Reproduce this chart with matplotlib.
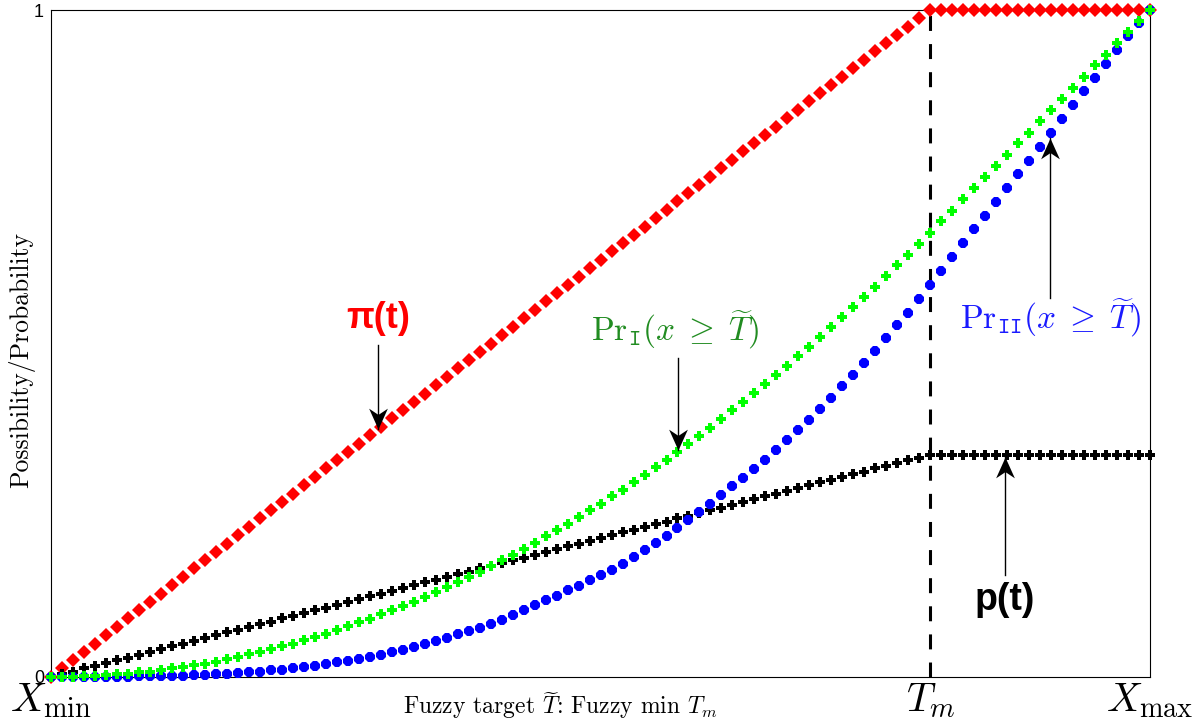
import numpy as np
import matplotlib
matplotlib.use("Agg")
import matplotlib.pyplot as plt
from matplotlib.path import Path

plt.rcParams["mathtext.fontset"] = "cm"
plt.rcParams["font.family"] = "serif"
plt.rcParams["font.serif"] = ["cmr10"]
plt.rcParams["axes.unicode_minus"] = False

# sample grid on [Xmin, Xmax], fuzzy min at Tm
t = np.arange(101) / 100
T_m = 0.8

# possibility pi(t)
pi_t = [0.000, 0.013, 0.025, 0.038, 0.050, 0.063, 0.075, 0.088, 0.100, 0.113,
        0.125, 0.138, 0.150, 0.163, 0.175, 0.188, 0.200, 0.213, 0.225, 0.238,
        0.250, 0.263, 0.275, 0.288, 0.300, 0.313, 0.325, 0.338, 0.350, 0.363,
        0.375, 0.388, 0.400, 0.413, 0.425, 0.438, 0.450, 0.463, 0.475, 0.488,
        0.500, 0.513, 0.525, 0.538, 0.550, 0.563, 0.575, 0.588, 0.600, 0.613,
        0.625, 0.638, 0.650, 0.663, 0.675, 0.688, 0.700, 0.713, 0.725, 0.738,
        0.750, 0.763, 0.775, 0.788, 0.800, 0.813, 0.825, 0.838, 0.850, 0.863,
        0.875, 0.888, 0.900, 0.913, 0.925, 0.938, 0.950, 0.963, 0.975, 0.988,
        1.000, 1.000, 1.000, 1.000, 1.000, 1.000, 1.000, 1.000, 1.000, 1.000,
        1.000, 1.000, 1.000, 1.000, 1.000, 1.000, 1.000, 1.000, 1.000, 1.000,
        1.000]

# Pr_I(x >= T)
pr_1 = [0.000, 0.000, 0.000, 0.001, 0.002, 0.003, 0.004, 0.005, 0.007, 0.008,
        0.010, 0.013, 0.015, 0.018, 0.020, 0.023, 0.027, 0.030, 0.034, 0.038,
        0.042, 0.046, 0.050, 0.055, 0.060, 0.065, 0.070, 0.076, 0.082, 0.087,
        0.094, 0.100, 0.106, 0.113, 0.120, 0.127, 0.135, 0.142, 0.150, 0.158,
        0.166, 0.175, 0.183, 0.192, 0.201, 0.211, 0.220, 0.230, 0.240, 0.250,
        0.260, 0.271, 0.281, 0.292, 0.303, 0.315, 0.326, 0.338, 0.350, 0.362,
        0.374, 0.387, 0.400, 0.413, 0.426, 0.439, 0.453, 0.467, 0.481, 0.495,
        0.510, 0.524, 0.539, 0.554, 0.570, 0.585, 0.601, 0.617, 0.633, 0.649,
        0.666, 0.683, 0.699, 0.716, 0.733, 0.750, 0.766, 0.783, 0.800, 0.816,
        0.833, 0.850, 0.866, 0.883, 0.900, 0.917, 0.933, 0.950, 0.967, 0.983,
        1.000]

# Pr_II(x >= T)
pr_2 = [0.000, 0.000, 0.000, 0.000, 0.000, 0.000, 0.000, 0.000, 0.001, 0.001,
        0.001, 0.002, 0.002, 0.003, 0.003, 0.004, 0.005, 0.006, 0.007, 0.008,
        0.010, 0.011, 0.013, 0.015, 0.017, 0.019, 0.022, 0.024, 0.027, 0.030,
        0.033, 0.037, 0.041, 0.045, 0.049, 0.054, 0.058, 0.064, 0.069, 0.074,
        0.080, 0.086, 0.093, 0.100, 0.108, 0.115, 0.122, 0.130, 0.137, 0.145,
        0.153, 0.161, 0.170, 0.180, 0.190, 0.201, 0.212, 0.224, 0.236, 0.248,
        0.260, 0.273, 0.286, 0.298, 0.312, 0.326, 0.340, 0.355, 0.370, 0.386,
        0.402, 0.419, 0.436, 0.453, 0.471, 0.489, 0.508, 0.527, 0.546, 0.567,
        0.587, 0.608, 0.629, 0.650, 0.671, 0.691, 0.712, 0.733, 0.754, 0.774,
        0.795, 0.816, 0.837, 0.857, 0.878, 0.898, 0.919, 0.940, 0.961, 0.981,
        1.000]

# probability p(t)
p_t = [0.000, 0.004, 0.008, 0.013, 0.017, 0.021, 0.025, 0.029, 0.033, 0.038,
       0.042, 0.046, 0.050, 0.054, 0.058, 0.063, 0.067, 0.071, 0.075, 0.079,
       0.083, 0.088, 0.092, 0.096, 0.100, 0.104, 0.108, 0.113, 0.117, 0.121,
       0.125, 0.129, 0.133, 0.138, 0.142, 0.146, 0.150, 0.154, 0.158, 0.163,
       0.167, 0.171, 0.175, 0.179, 0.183, 0.188, 0.192, 0.196, 0.200, 0.204,
       0.208, 0.213, 0.217, 0.221, 0.225, 0.229, 0.233, 0.238, 0.242, 0.246,
       0.250, 0.254, 0.258, 0.263, 0.267, 0.271, 0.275, 0.279, 0.283, 0.288,
       0.292, 0.296, 0.300, 0.304, 0.308, 0.313, 0.317, 0.321, 0.325, 0.329,
       0.333, 0.333, 0.333, 0.333, 0.333, 0.333, 0.333, 0.333, 0.333, 0.333,
       0.333, 0.333, 0.333, 0.333, 0.333, 0.333, 0.333, 0.333, 0.333, 0.333,
       0.333]

xtick_pos = [0.0, T_m, 1.0]
xtick_labels = [r"$X_{\min}$", r"$T_m$", r"$X_{\max}$"]

fig = plt.figure(figsize=(11.98, 7.26), dpi=100)
ax = fig.add_axes([0.0426, 0.0675, 0.9174, 0.9187])

# dashed marker of the fuzzy min
ax.plot([T_m, T_m], [0, 1], color="k", lw=2.2, dashes=(4.9, 4.3), zorder=2)

ax.plot(t, pi_t, "D", color=(1, 0, 0), ms=7, mew=0, clip_on=False, zorder=3)
ax.plot(t, p_t, "P", color="k", ms=7.5, mew=0, clip_on=False, zorder=3)
ax.plot(t, pr_2, "8", color=(0, 0, 1), ms=8.5, mew=0, clip_on=False, zorder=4)
ax.plot(t, pr_1, "P", color=(0, 1, 0), ms=7.5, mew=0, clip_on=False, zorder=5)

ax.set_xlim(0, 1)
ax.set_ylim(0, 1)
for s in ax.spines.values():
    s.set_linewidth(0.8)

ax.set_xticks(xtick_pos)
ax.set_xticklabels(xtick_labels, fontsize=29)
ax.set_yticks([0, 1])
ax.set_yticklabels(["0", "1"], fontsize=13, family="Liberation Sans")
ax.tick_params(length=0)
ax.tick_params(axis="y", pad=5)
ax.tick_params(axis="x", pad=3)

ax.text(0.463, -0.043, r"Fuzzy target $\widetilde{T}$: Fuzzy min $T_m$",
        transform=ax.transAxes, ha="center", va="center", fontsize=17)
ax.text(-0.027, 0.475, "Possibility/Probability", transform=ax.transAxes,
        rotation=90, ha="center", va="center", fontsize=18.5)

# arrow heads with a notched back
head_down = Path([(0, 0), (-0.45, 1), (0, 0.7), (0.45, 1), (0, 0)],
                 [Path.MOVETO, Path.LINETO, Path.LINETO, Path.LINETO, Path.CLOSEPOLY])
head_up = Path([(0, 0), (-0.45, -1), (0, -0.7), (0.45, -1), (0, 0)],
               [Path.MOVETO, Path.LINETO, Path.LINETO, Path.LINETO, Path.CLOSEPOLY])


def arrow(x, y0, y1):
    ax.plot([x, x], [y0, y1], color="k", lw=1, zorder=6, clip_on=False)
    head = head_down if y1 < y0 else head_up
    ax.plot([x], [y1], marker=head, ms=30, color="k", mew=0, zorder=6,
            linestyle="none", clip_on=False)


ax.text(0.2975, 0.538, "π(t)", color=(1, 0, 0), fontsize=26, fontweight="bold",
        family="Liberation Sans", ha="center", va="center")
arrow(0.2975, 0.498, 0.372)

ax.text(0.568, 0.520, r"$\mathrm{Pr}_{\mathtt{I}}(x\;\geq\;\widetilde{T})$",
        color=(0.13, 0.55, 0.13), fontsize=24, ha="center", va="center")
arrow(0.5705, 0.478, 0.340)

ax.text(0.909, 0.538, r"$\mathrm{Pr}_{\mathtt{II}}(x\;\geq\;\widetilde{T})$",
        color=(0.1, 0.1, 1), fontsize=24, ha="center", va="center")
arrow(0.909, 0.568, 0.808)

ax.text(0.868, 0.115, "p(t)", color="k", fontsize=27, fontweight="bold",
        family="Liberation Sans", ha="center", va="center")
arrow(0.868, 0.153, 0.330)

fig.savefig("out.png", dpi=100)
